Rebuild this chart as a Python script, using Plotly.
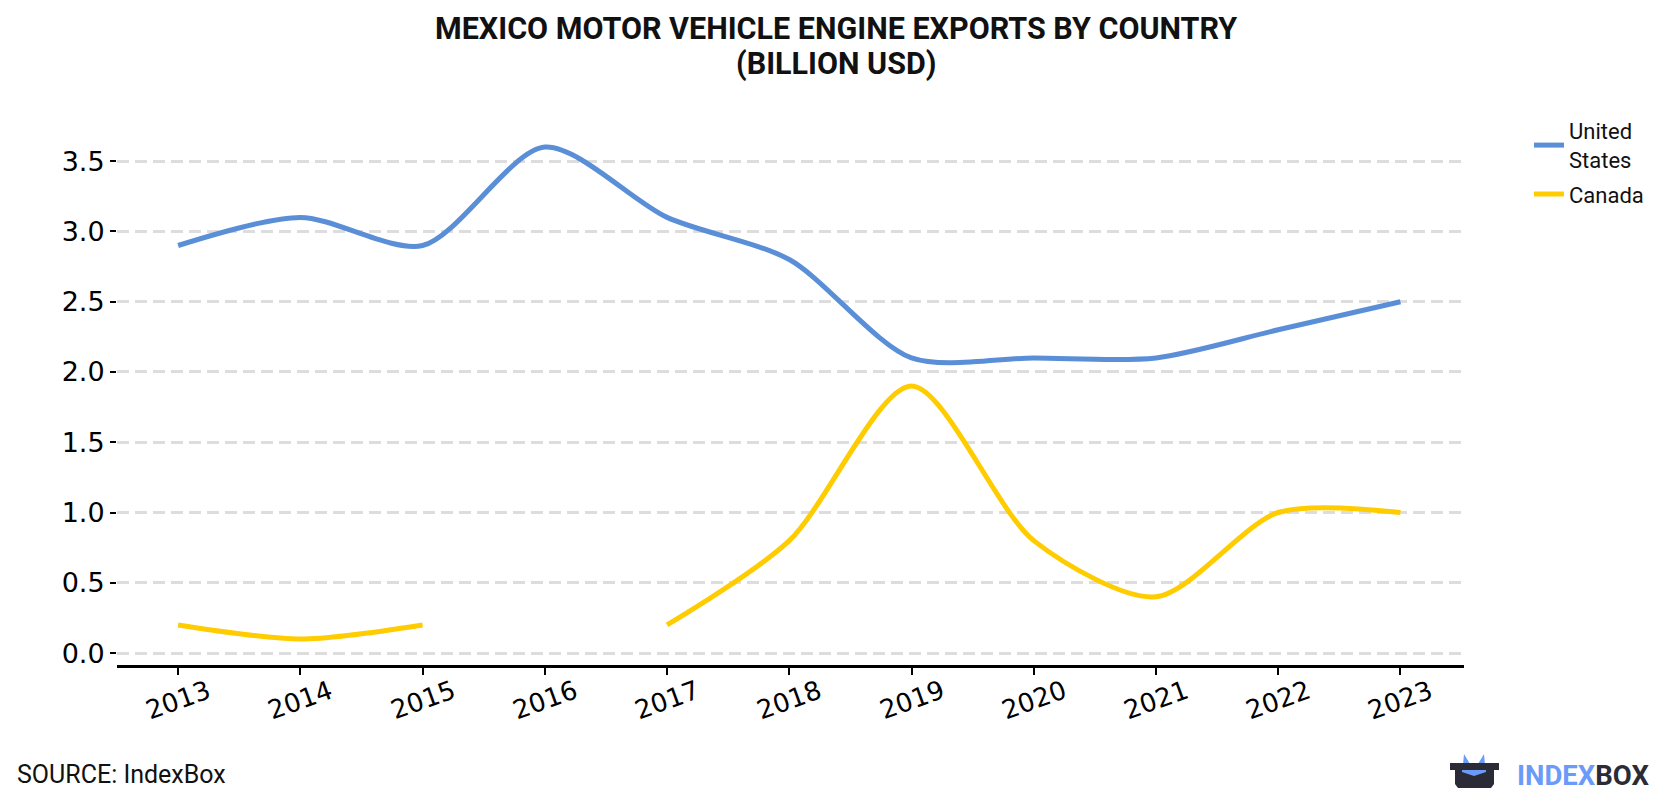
import plotly.graph_objects as go

years = [2013, 2014, 2015, 2016, 2017, 2018, 2019, 2020, 2021, 2022, 2023]
united_states = [2.9, 3.1, 2.9, 3.6, 3.1, 2.8, 2.1, 2.1, 2.1, 2.3, 2.5]
canada = [0.2, 0.1, 0.2, None, 0.2, 0.8, 1.9, 0.8, 0.4, 1.0, 1.0]
y_ticks = [0.0, 0.5, 1.0, 1.5, 2.0, 2.5, 3.0, 3.5]
y_tick_labels = ["0.0", "0.5", "1.0", "1.5", "2.0", "2.5", "3.0", "3.5"]
x_tick_labels = [str(y) for y in years]

# page has an 8px body margin; figure sized to fit the 1680x800 window
OFF = 8
W, H = 1680 - 2 * OFF, 800 - 2 * OFF
# target page-pixel plot area: x 117..1464, y 119..665
ML = 117 - OFF
MR = W - (1464 - OFF)
MT = 119 - OFF
MB = H - (665 - OFF)
PW = W - ML - MR
PH = H - MT - MB

def px(x):
    return (x - OFF - ML) / PW

def py(y):
    return (H - MB - (y - OFF)) / PH

fig = go.Figure()
fig.add_trace(go.Scatter(
    x=years, y=united_states, name="United<br>States", mode="lines", legendgroup="us",
    line=dict(color="#5a8fd8", width=5, shape="spline", smoothing=0.8),
    connectgaps=False,
))
fig.add_trace(go.Scatter(
    x=years, y=canada, name="Canada", mode="lines", legendgroup="ca",
    line=dict(color="#ffcc00", width=5, shape="spline", smoothing=0.8),
    connectgaps=False,
))

fig.update_layout(
    width=W, height=H,
    margin=dict(l=ML, r=MR, t=MT, b=MB, autoexpand=False),
    paper_bgcolor="white", plot_bgcolor="white",
    showlegend=True,
    legend=dict(
        x=px(1529), xanchor="left", y=py(110), yanchor="top",
        font=dict(family="Roboto", size=22, color="#111111"),
        bgcolor="rgba(0,0,0,0)", tracegroupgap=3, itemwidth=30,
    ),
    xaxis=dict(
        range=[2012.5, 2023.52], tickmode="array", tickvals=years,
        showticklabels=False, showgrid=False, zeroline=False,
        showline=True, linecolor="black", linewidth=2.5,
        ticks="outside", ticklen=7, tickwidth=2, tickcolor="black",
    ),
    yaxis=dict(
        range=[-0.085, 3.80], tickmode="array", tickvals=y_ticks, ticktext=y_tick_labels,
        showgrid=True, gridcolor="#dddddd", gridwidth=2.5, griddash="12px,6px",
        zeroline=False, showline=False,
        ticks="outside", ticklen=6, tickwidth=2, tickcolor="black",
        tickfont=dict(family="DejaVu Sans", size=27, color="black"),
    ),
)

# title (two lines)
fig.add_annotation(
    text="<b>MEXICO MOTOR VEHICLE ENGINE EXPORTS BY COUNTRY</b>", xref="paper", yref="paper",
    x=px(836), y=py(29), xanchor="center", yanchor="middle", showarrow=False,
    font=dict(family="Roboto", size=30.5, color="#111111"),
)
fig.add_annotation(
    text="<b>(BILLION USD)</b>", xref="paper", yref="paper",
    x=px(836), y=py(64), xanchor="center", yanchor="middle", showarrow=False,
    font=dict(family="Roboto", size=30.5, color="#111111"),
)

# rotated x tick labels, centered under ticks
for yr, lab in zip(years, x_tick_labels):
    fig.add_annotation(
        text=lab, xref="x", yref="paper", x=yr, y=py(700),
        xanchor="center", yanchor="middle", showarrow=False, textangle=-20,
        font=dict(family="DejaVu Sans", size=26, color="black"),
    )

fig.add_annotation(
    text="SOURCE: IndexBox", xref="paper", yref="paper",
    x=px(15), y=py(774), xanchor="left", yanchor="middle", showarrow=False,
    font=dict(family="Roboto", size=25, color="#111111"),
)
fig.add_annotation(
    text="<b><span style='color:#6b9bf8'>INDEX</span><span style='color:#2a2b36'>BOX</span></b>",
    xref="paper", yref="paper",
    x=px(1515), y=py(775), xanchor="left", yanchor="middle", showarrow=False,
    font=dict(family="Roboto", size=27.5),
)

# logo shapes
def path(points):
    return "M " + " L ".join(f"{px(a)},{py(b)}" for a, b in points) + " Z"

fig.add_shape(type="path", xref="paper", yref="paper",
              path=path([(1462, 775), (1464, 754), (1470, 764), (1478, 764), (1484, 754), (1486, 775)]),
              fillcolor="#6b9bf8", line=dict(width=0))
fig.add_shape(type="path", xref="paper", yref="paper",
              path=path([(1450, 763), (1499, 763), (1499, 770), (1494, 770), (1494, 784),
                         (1491, 788), (1458, 788), (1455, 784), (1455, 770), (1450, 770)]),
              fillcolor="#2a2b36", line=dict(width=0))
fig.add_shape(type="path", xref="paper", yref="paper",
              path=path([(1462, 770), (1486, 770), (1486, 772), (1474, 776), (1462, 772)]),
              fillcolor="#6b9bf8", line=dict(width=0))

fig.write_html("out.html")
